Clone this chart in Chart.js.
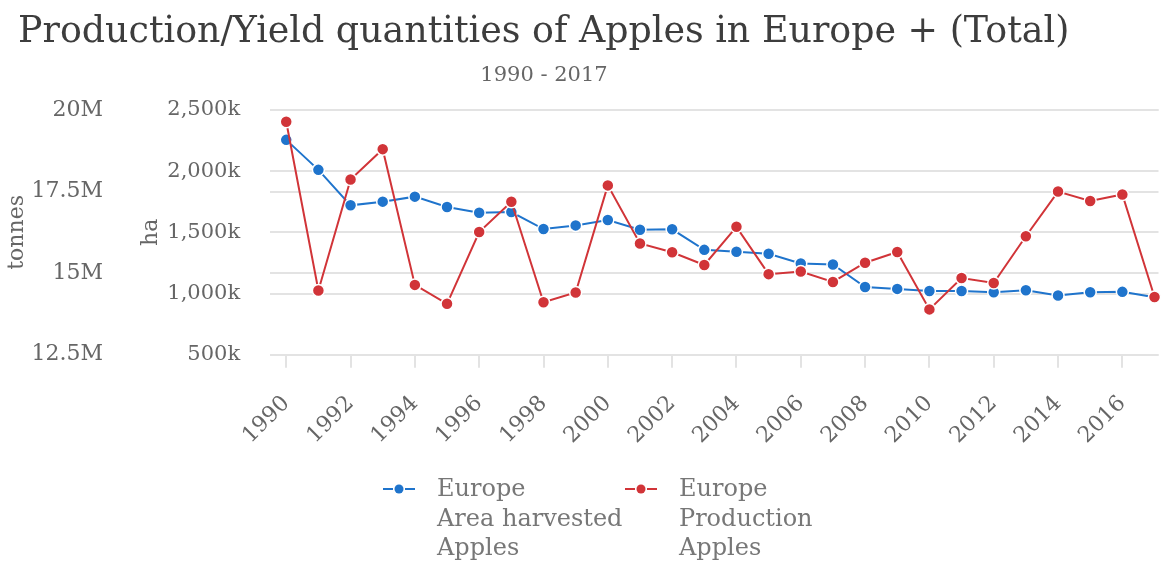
<!DOCTYPE html>
<html>
<head>
<meta charset="utf-8">
<script src="https://cdn.jsdelivr.net/npm/chart.js@4.4.1/dist/chart.umd.min.js"></script>
<style>
  body { margin: 0; background: #fff; font-family: "DejaVu Serif", serif; }
  #wrap { position: relative; width: 1166px; height: 562px; overflow: hidden; }
  #chart { position: absolute; left: 0; top: 0; }
  .title { position: absolute; left: 18px; top: 8px; font-size: 36.4px; color: #3d3d3d; white-space: nowrap; }
  .subtitle { position: absolute; left: 0; width: 1088px; top: 62px; text-align: center; font-size: 21px; color: #666; }
  .legend { position: absolute; top: 474px; font-size: 24px; color: #777; line-height: 29.5px; }
  .legend svg { position: absolute; left: 0; top: 8px; }
  .legend div { padding-left: 54px; white-space: nowrap; }
</style>
</head>
<body>
<div id="wrap">
  <canvas id="chart" width="1166" height="562"></canvas>
  <div class="title">Production/Yield quantities of Apples in Europe + (Total)</div>
  <div class="subtitle">1990 - 2017</div>
  <div class="legend" style="left:383px">
    <svg width="34" height="14"><line x1="0" y1="7" x2="10" y2="7" stroke="#1f74cc" stroke-width="2"/><circle cx="16" cy="7" r="4.5" fill="#1f74cc"/><line x1="22" y1="7" x2="32" y2="7" stroke="#1f74cc" stroke-width="2"/></svg>
    <div>Europe<br>Area harvested<br>Apples</div>
  </div>
  <div class="legend" style="left:625px">
    <svg width="34" height="14"><line x1="0" y1="7" x2="10" y2="7" stroke="#d13438" stroke-width="2"/><circle cx="16" cy="7" r="4.5" fill="#d13438"/><line x1="22" y1="7" x2="32" y2="7" stroke="#d13438" stroke-width="2"/></svg>
    <div>Europe<br>Production<br>Apples</div>
  </div>
</div>
<script>
  // Values
  const years = [1990, 1991, 1992, 1993, 1994, 1995, 1996, 1997, 1998, 1999, 2000, 2001, 2002, 2003,
    2004, 2005, 2006, 2007, 2008, 2009, 2010, 2011, 2012, 2013, 2014, 2015, 2016, 2017];
  const areaHarvested = [2256000, 2011000, 1721000, 1751000, 1792000, 1707000, 1661000, 1666000, 1527000,
    1557000, 1601000, 1521000, 1525000, 1357000, 1341000, 1325000, 1246000, 1238000, 1054000, 1038000,
    1021000, 1021000, 1011000, 1027000, 984000, 1011000, 1014000, 970000]; // ha
  const production = [19640000, 14470000, 17870000, 18800000, 14640000, 14060000, 16260000, 17190000,
    14110000, 14410000, 17690000, 15910000, 15640000, 15250000, 16420000, 14970000, 15050000, 14730000,
    15320000, 15650000, 13890000, 14850000, 14700000, 16130000, 17500000, 17210000, 17410000, 14270000]; // tonnes
  const yearTicks = [1990, 1992, 1994, 1996, 1998, 2000, 2002, 2004, 2006, 2008, 2010, 2012, 2014, 2016];
  const haTicks = [500000, 1000000, 1500000, 2000000, 2500000];
  const tonnesTicks = [12500000, 15000000, 17500000, 20000000];

  const blue = "#1f74cc";
  const red = "#d13438";
  const gridColor = "#e3e3e3";
  const tickColor = "#666";
  const font = "'DejaVu Serif', serif";

  const toPoints = (vals) => vals.map((v, i) => ({ x: years[i], y: v }));
  const setTicks = (list) => (scale) => { scale.ticks = list.map((v) => ({ value: v })); };

  new Chart(document.getElementById("chart").getContext("2d"), {
    type: "line",
    data: {
      datasets: [
        {
          label: "Europe Production Apples",
          data: toPoints(production),
          yAxisID: "yT",
          clip: false,
          borderColor: red,
          backgroundColor: red,
          pointBackgroundColor: red,
          pointBorderColor: "#fff",
          pointBorderWidth: 1.5,
          pointRadius: 6,
          borderWidth: 2,
        },
        {
          label: "Europe Area harvested Apples",
          data: toPoints(areaHarvested),
          yAxisID: "yH",
          clip: false,
          borderColor: blue,
          backgroundColor: blue,
          pointBackgroundColor: blue,
          pointBorderColor: "#fff",
          pointBorderWidth: 1.5,
          pointRadius: 6,
          borderWidth: 2,
        },
      ],
    },
    options: {
      responsive: false,
      animation: false,
      layout: { padding: { top: 110, left: 4, right: 0, bottom: 90 } },
      plugins: { legend: { display: false }, tooltip: { enabled: false } },
      scales: {
        x: {
          type: "linear",
          min: 1989.5,
          max: 2017.124,
          afterBuildTicks: setTicks(yearTicks),
          border: { display: false },
          grid: { drawOnChartArea: false, drawTicks: true, tickLength: 13, color: gridColor, lineWidth: 2 },
          ticks: {
            minRotation: 45, maxRotation: 45, padding: 23,
            color: tickColor, font: { family: font, size: 22 },
            callback: (v) => String(v),
          },
        },
        yT: {
          type: "linear",
          position: "left",
          weight: 2,
          min: 12500000,
          max: 20000000,
          afterBuildTicks: setTicks(tonnesTicks),
          border: { display: false },
          grid: { color: gridColor, lineWidth: 2, drawTicks: false },
          title: { display: true, text: "tonnes", color: tickColor, font: { family: font, size: 22 }, padding: { top: 0, bottom: 0 } },
          ticks: { color: tickColor, font: { family: font, size: 22 }, padding: 1, callback: (v) => v / 1000000 + "M" },
        },
        yH: {
          type: "linear",
          position: "left",
          weight: 1,
          min: 500000,
          max: 2500000,
          afterBuildTicks: setTicks(haTicks),
          border: { display: false },
          grid: { color: gridColor, lineWidth: 2, drawTicks: true, tickLength: 27, tickColor: "rgba(0,0,0,0)" },
          title: { display: true, text: "ha", color: tickColor, font: { family: font, size: 22 }, padding: { top: 34, bottom: 0 } },
          ticks: { color: tickColor, font: { family: font, size: 21 }, padding: 3, callback: (v) => (v / 1000).toLocaleString("en-US") + "k" },
        },
      },
    },
  });
</script>
</body>
</html>
